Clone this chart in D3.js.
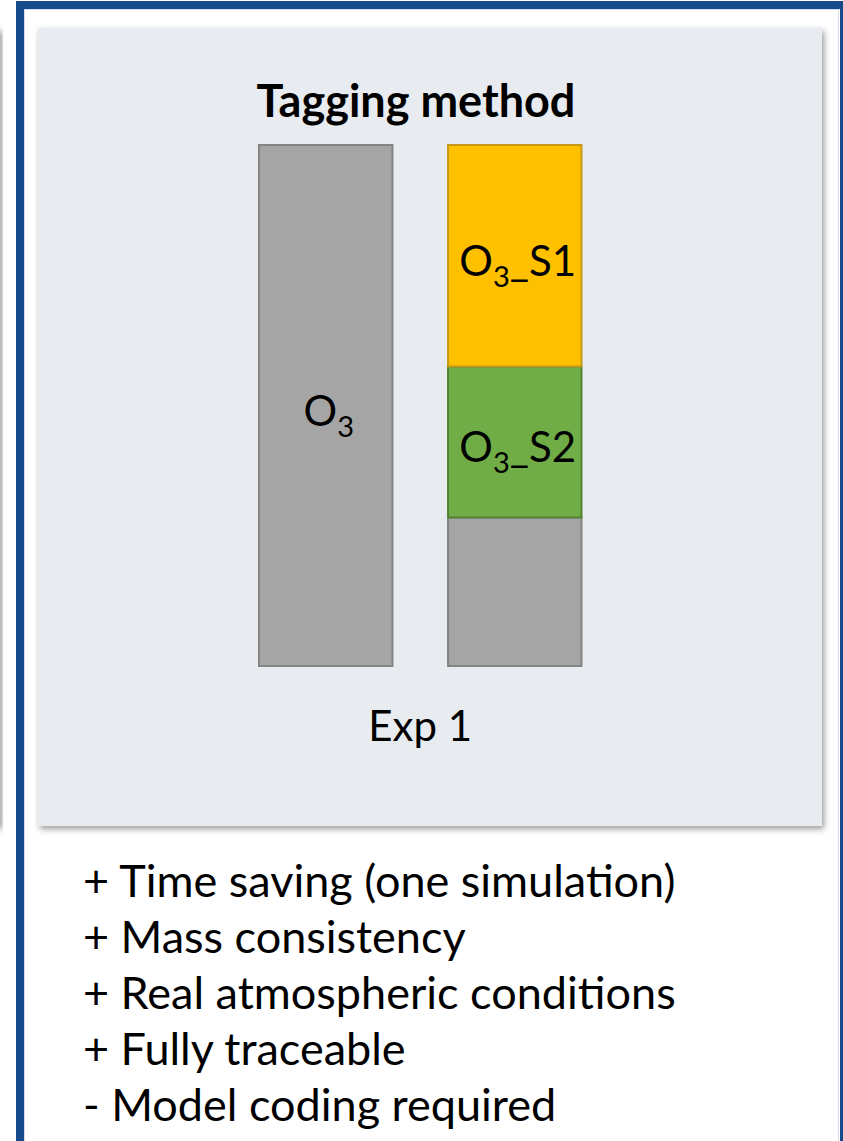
<!DOCTYPE html>
<html>
<head>
<meta charset="utf-8">
<script src="https://d3js.org/d3.v7.min.js"></script>
<style>
  body { margin: 0; background: #fff; }
  svg text { font-family: Lato, "Open Sans", sans-serif; fill: #000; }
</style>
</head>
<body>
<svg id="chart" width="843" height="1141"></svg>
<script>
// bars and their stacked parts (share of total O3, %)
var bars = ["O3", "Tagged"];
var leftValues = [100];
var leftNames = ["O3"];
var rightValues = [28.5, 29.0, 42.5];          // bottom to top
var rightNames = ["rest", "O3_S2", "O3_S1"];
var title = "Tagging method";
var xLabel = "Exp 1";
var notes = [
  "+ Time saving (one simulation)",
  "+ Mass consistency",
  "+ Real atmospheric conditions",
  "+ Fully traceable",
  "- Model coding required"
];

var fills = { O3: "#a5a5a5", rest: "#a5a5a5", O3_S2: "#70ad47", O3_S1: "#ffc000" };
var strokes = { O3: "#848484", rest: "#848484", O3_S2: "#548235", O3_S1: "#c49a1a" };

var svg = d3.select("#chart");

var defs = svg.append("defs");
var f = defs.append("filter").attr("id", "shadow")
    .attr("x", "-5%").attr("y", "-5%").attr("width", "115%").attr("height", "115%");
f.append("feDropShadow").attr("dx", 2).attr("dy", 3)
    .attr("stdDeviation", 3).attr("flood-color", "#000").attr("flood-opacity", 0.4);

// outer frame
svg.append("rect").attr("x", 20).attr("y", 5).attr("width", 824).attr("height", 1200)
    .attr("fill", "#fff").attr("stroke", "#174a8a").attr("stroke-width", 8);
svg.append("rect").attr("x", 24.5).attr("y", 9.5).attr("width", 814).attr("height", 1200)
    .attr("fill", "none").attr("stroke", "#d3ddec").attr("stroke-width", 1);

// neighbour panel edge on the left
svg.append("rect").attr("x", -30).attr("y", 28).attr("width", 30).attr("height", 798)
    .attr("fill", "#e8ebf0").attr("filter", "url(#shadow)");

// panel
svg.append("rect").attr("x", 38).attr("y", 28).attr("width", 784).attr("height", 798)
    .attr("fill", "#e8ebf0").attr("filter", "url(#shadow)");

var x = d3.scaleBand().domain(bars).range([164.5, 676]).paddingInner(0.294).paddingOuter(0.5);
var y = d3.scaleLinear().domain([0, 100]).range([666, 145]);

function stackParts(vals, names, bar) {
  var ends = d3.cumsum(vals);
  return vals.map(function(v, i) {
    return { bar: bar, name: names[i], y0: ends[i] - v, y1: ends[i] };
  });
}
var parts = stackParts(leftValues, leftNames, bars[0])
    .concat(stackParts(rightValues, rightNames, bars[1]));

svg.append("g").selectAll("rect").data(parts).enter().append("rect")
    .attr("x", function(d) { return x(d.bar); })
    .attr("width", x.bandwidth())
    .attr("y", function(d) { return y(d.y1); })
    .attr("height", function(d) { return y(d.y0) - y(d.y1); })
    .attr("fill", function(d) { return fills[d.name]; })
    .attr("stroke", function(d) { return strokes[d.name]; })
    .attr("stroke-width", 2);

// labels with subscript 3
var lab = svg.append("g").selectAll("text").data(parts.filter(function(d) { return d.name !== "rest"; }))
  .enter().append("text")
    .attr("x", function(d) { return x(d.bar) + x.bandwidth() / 2 + 3; })
    .attr("y", function(d) { return (y(d.y0) + y(d.y1)) / 2 + 20; })
    .attr("text-anchor", "middle")
    .style("font-size", "42px");
lab.append("tspan").text("O");
lab.append("tspan").attr("dy", 11).style("font-size", "29px").text("3");
lab.filter(function(d) { return d.name !== "O3"; })
  .append("tspan").attr("dy", -11).text(function(d) { return d.name.slice(2); });

svg.append("text").attr("x", 416).attr("y", 117).attr("text-anchor", "middle")
    .style("font-size", "45px").style("font-weight", "bold").text(title);

svg.append("text").attr("x", x(bars[0]) + (x(bars[1]) + x.bandwidth() - x(bars[0])) / 2)
    .attr("y", 741).attr("text-anchor", "middle")
    .style("font-size", "42px").text(xLabel);

svg.append("g").selectAll("text").data(notes).enter().append("text")
    .attr("x", 83)
    .attr("y", function(d, i) { return 897 + i * 56; })
    .style("font-size", "45px")
    .text(function(d) { return d; });
</script>
</body>
</html>
